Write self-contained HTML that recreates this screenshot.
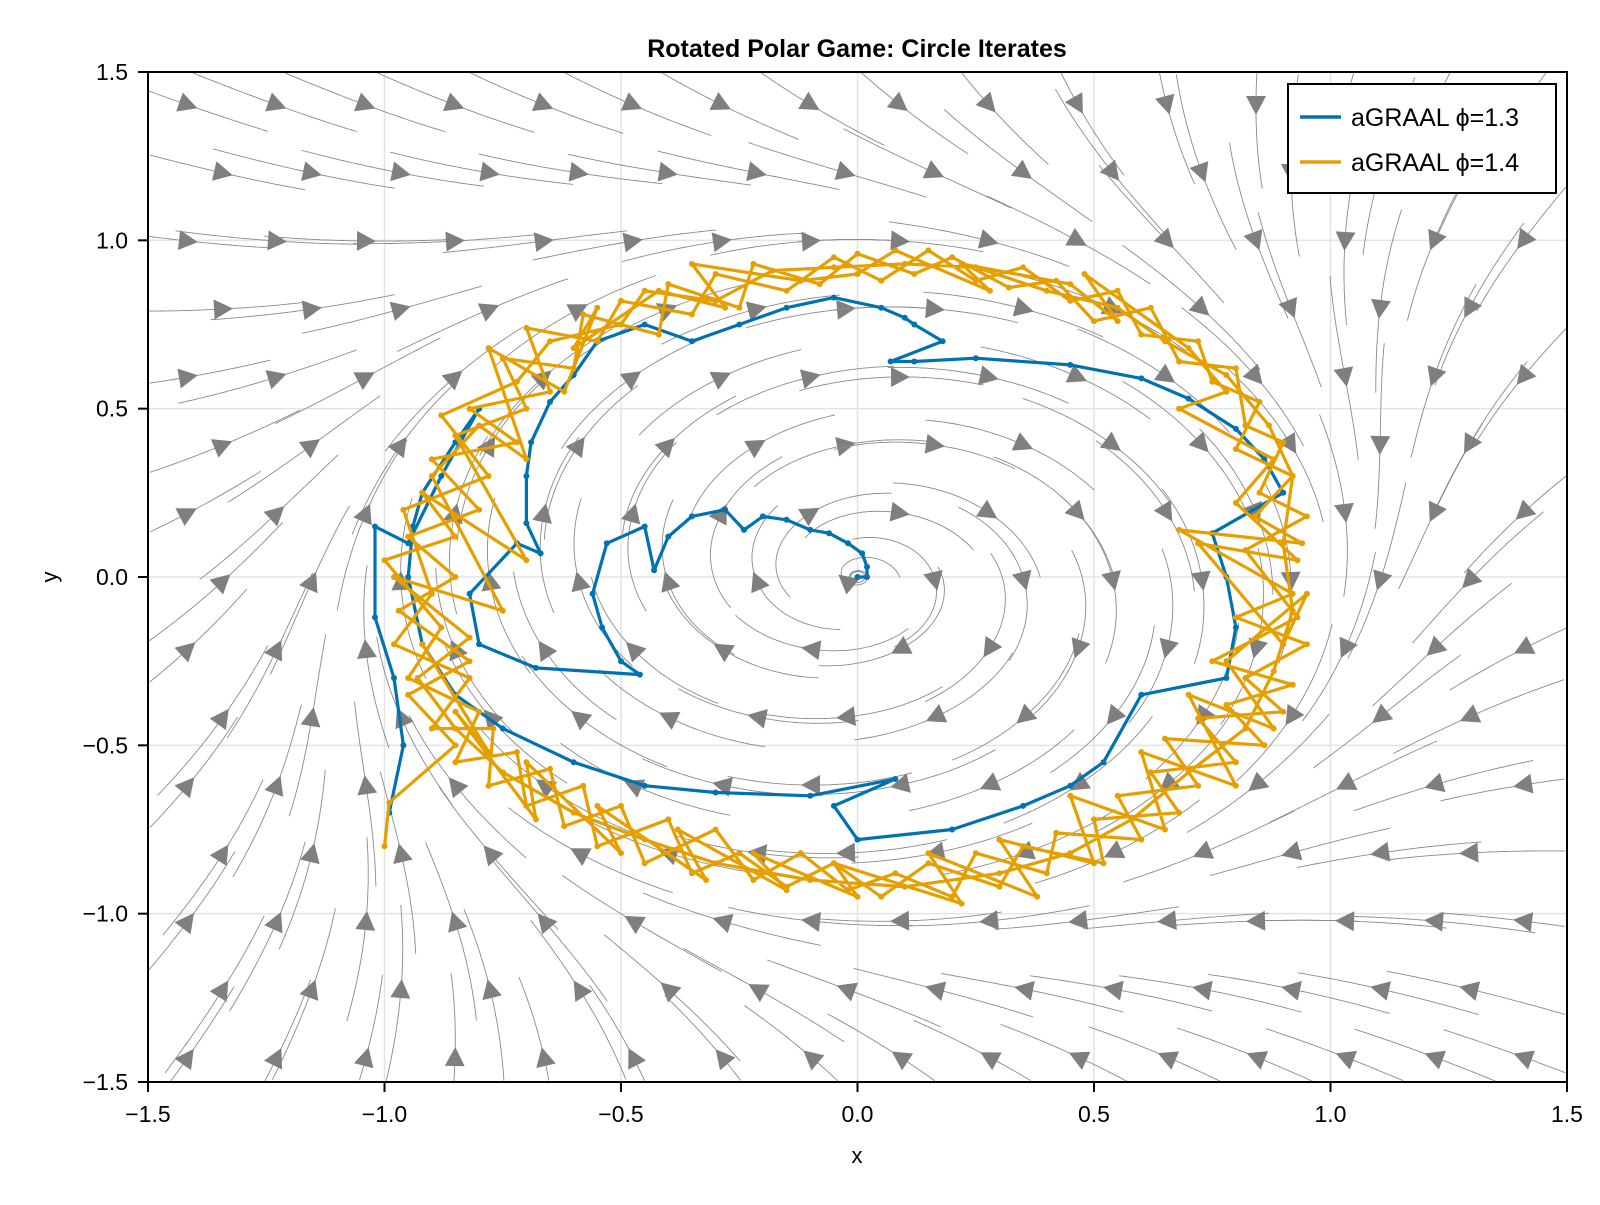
<!DOCTYPE html>
<html><head><meta charset="utf-8"><style>
body{margin:0;background:#fff;}
svg text{font-family:"Liberation Sans",sans-serif;}
</style></head><body>
<svg id="chart" width="1600" height="1200" viewBox="0 0 1600 1200" xmlns="http://www.w3.org/2000/svg">
<rect width="1600" height="1200" fill="#fff"/>
<text x="857" y="57" text-anchor="middle" font-size="25" font-weight="bold">Rotated Polar Game: Circle Iterates</text>
<g id="grid"></g>
<g id="stream"></g>
<g id="series"></g>
<rect x="148" y="72" width="1419" height="1010" fill="none" stroke="#000" stroke-width="2"/>
<g id="axes"></g>
<text x="857" y="1163" text-anchor="middle" font-size="22">x</text>
<text x="57" y="577" text-anchor="middle" font-size="22" transform="rotate(-90 57 577)">y</text>
<g>
<rect x="1288" y="84" width="268" height="109" fill="#fff" stroke="#000" stroke-width="2"/>
<line x1="1300" y1="117" x2="1341" y2="117" stroke="#0072b2" stroke-width="3.5"/>
<text x="1351" y="126" font-size="25">aGRAAL ϕ=1.3</text>
<line x1="1300" y1="162" x2="1341" y2="162" stroke="#e69f00" stroke-width="3.5"/>
<text x="1351" y="171" font-size="25">aGRAAL ϕ=1.4</text>
</g>
</svg>
<script>
const xTicks=[-1.5,-1.0,-0.5,0.0,0.5,1.0,1.5];
const yTicks=[-1.5,-1.0,-0.5,0.0,0.5,1.0,1.5];
const xTickLabels=["−1.5","−1.0","−0.5","0.0","0.5","1.0","1.5"];
const yTickLabels=["−1.5","−1.0","−0.5","0.0","0.5","1.0","1.5"];
const blueX=[0,0.02,0.02,0.01,-0.02,-0.06,-0.1,-0.15,-0.2,-0.24,-0.28,-0.35,-0.4,-0.43,-0.45,-0.53,-0.56,-0.54,-0.5,-0.46,-0.68,-0.8,-0.82,-0.72,-0.67,-0.7,-0.7,-0.69,-0.65,-0.6,-0.55,-0.45,-0.35,-0.25,-0.15,-0.05,0.05,0.1,0.12,0.18,0.07,0.12,0.25,0.45,0.6,0.7,0.8,0.86,0.9,0.75,0.78,0.8,0.78,0.6,0.52,0.45,0.35,0.2,0.0,-0.05,0.08,-0.1,-0.3,-0.45,-0.6,-0.75,-0.85,-0.92,-0.95,-0.94,-0.92,-0.85,-0.8,-0.88,-0.95,-1.02,-1.02,-0.98,-0.96,-0.99];
const blueY=[0,0,0.03,0.07,0.1,0.13,0.14,0.17,0.18,0.14,0.2,0.18,0.12,0.02,0.15,0.1,-0.05,-0.15,-0.25,-0.29,-0.27,-0.2,-0.05,0.1,0.07,0.16,0.3,0.4,0.52,0.6,0.7,0.75,0.7,0.75,0.8,0.83,0.8,0.77,0.75,0.7,0.64,0.64,0.65,0.63,0.59,0.53,0.44,0.35,0.25,0.13,0,-0.15,-0.3,-0.35,-0.55,-0.62,-0.68,-0.75,-0.78,-0.68,-0.6,-0.65,-0.64,-0.62,-0.55,-0.45,-0.35,-0.2,0,0.15,0.25,0.4,0.5,0.3,0.1,0.15,-0.12,-0.3,-0.5,-0.7];
const orangeX=[-1,-0.99,-0.85,-0.95,-0.82,-0.97,-0.85,-0.95,-0.8,-0.9,-0.72,-0.82,-0.65,-0.7,-0.55,-0.5,-0.35,-0.3,-0.15,-0.05,0.05,0.15,0.25,0.35,0.45,0.55,0.6,0.72,0.75,0.85,0.8,0.92,0.84,0.94,0.68,0.92,0.8,0.95,0.82,0.9,0.72,0.8,0.62,0.68,0.5,0.52,0.35,0.3,0.15,0.05,-0.05,-0.15,-0.25,-0.35,-0.4,-0.55,-0.58,-0.7,-0.72,-0.85,-0.8,-0.95,
-0.88,-1.0,-0.85,-0.92,-0.7,-0.85,-0.7,-0.75,-0.6,-0.58,-0.42,-0.4,-0.25,-0.22,-0.08,0.0,0.12,0.2,0.32,0.42,0.5,0.62,0.68,0.8,0.82,0.9,0.85,0.95,0.82,0.93,0.75,0.92,0.78,0.86,0.65,0.72,0.55,0.6,0.42,0.4,0.25,0.2,0.08,-0.02,-0.12,-0.22,-0.3,-0.45,-0.5,-0.62,-0.65,-0.78,-0.77,-0.9,-0.82,-0.98,
-0.9,-0.96,-0.78,-0.88,-0.72,-0.65,-0.5,-0.45,-0.3,-0.18,-0.05,0.1,0.25,0.4,0.55,0.65,0.78,0.87,0.92,0.9,0.92,0.88,0.82,0.7,0.58,0.45,0.3,0.1,-0.1,-0.3,-0.45,-0.6,-0.75,-0.85,
-0.93,-0.82,-0.98,-0.75,-0.9,-0.8,-0.7,-0.78,-0.62,-0.55,-0.6,-0.42,-0.28,-0.35,-0.12,0.0,0.08,0.28,0.22,0.45,0.55,0.48,0.7,0.78,0.68,0.88,0.8,0.93,0.72,0.9,0.95,0.78,0.88,0.7,0.8,0.6,0.65,0.45,0.5,0.3,0.38,0.15,0.22,-0.05,0.0,-0.22,-0.15,-0.38,-0.32,-0.55,-0.5,-0.7,-0.68,-0.85,-0.78,-0.92];
const orangeY=[-0.8,-0.67,-0.5,-0.35,-0.25,-0.1,0,0.12,0.2,0.35,0.4,0.5,0.55,0.74,0.7,0.82,0.78,0.9,0.85,0.95,0.88,0.97,0.88,0.92,0.82,0.85,0.72,0.7,0.58,0.52,0.38,0.3,0.18,0.1,0.14,-0.05,-0.12,-0.2,-0.3,-0.4,-0.42,-0.55,-0.58,-0.7,-0.72,-0.85,-0.8,-0.92,-0.85,-0.95,-0.85,-0.92,-0.82,-0.88,-0.72,-0.8,-0.62,-0.68,-0.52,-0.55,-0.4,-0.3,
-0.15,0.05,0.12,0.25,0.05,0.42,0.5,0.65,0.62,0.78,0.72,0.87,0.8,0.93,0.87,0.96,0.9,0.95,0.86,0.88,0.76,0.8,0.64,0.62,0.45,0.4,0.25,0.18,0.08,-0.12,-0.25,-0.32,-0.38,-0.5,-0.48,-0.62,-0.65,-0.78,-0.76,-0.88,-0.82,-0.95,-0.88,-0.93,-0.82,-0.9,-0.75,-0.85,-0.68,-0.74,-0.57,-0.62,-0.45,-0.45,-0.3,-0.2,
-0.05,0.2,0.3,0.48,0.58,0.7,0.75,0.85,0.82,0.91,0.92,0.93,0.92,0.85,0.8,0.7,0.6,0.45,0.3,0.1,-0.1,-0.28,-0.45,-0.58,-0.72,-0.82,-0.88,-0.92,-0.9,-0.85,-0.78,-0.7,-0.58,-0.45,
-0.3,-0.18,0.0,-0.1,0.3,0.45,0.35,0.68,0.55,0.8,0.68,0.85,0.8,0.93,0.88,0.9,0.97,0.85,0.93,0.87,0.76,0.9,0.68,0.55,0.5,0.35,0.22,0.05,0.1,-0.2,-0.05,-0.25,-0.45,-0.35,-0.62,-0.52,-0.75,-0.65,-0.85,-0.78,-0.95,-0.82,-0.97,-0.85,-0.95,-0.82,-0.93,-0.75,-0.9,-0.68,-0.82,-0.55,-0.72,-0.4,-0.52,-0.2];

const NS='http://www.w3.org/2000/svg';
const X0=148,X1=1567,Y0=1082,Y1=72;
const sx=v=>X0+(v+1.5)/3*(X1-X0);
const sy=v=>Y0-(v+1.5)/3*(Y0-Y1);
const KX=(X1-X0)/3,KY=(Y0-Y1)/3,CX=sx(0),CY=sy(0);
function mk(tag,attrs,parent){const e=document.createElementNS(NS,tag);for(const k in attrs)e.setAttribute(k,attrs[k]);parent.appendChild(e);return e;}
const grid=document.getElementById('grid'),axes=document.getElementById('axes');
xTicks.forEach((t,i)=>{
  const l=mk('line',{x1:sx(t),x2:sx(t),y1:Y1,y2:Y0,stroke:'#e3e3e3','stroke-width':1.5},grid);
  
  const k=mk('line',{x1:sx(t),x2:sx(t),y1:Y0,y2:Y0+10,stroke:'#000','stroke-width':2},axes);
  
  const tx=mk('text',{x:sx(t),y:Y0+40,'text-anchor':'middle','font-size':23},axes);tx.textContent=xTickLabels[i];
  
});
yTicks.forEach((t,i)=>{
  const l=mk('line',{x1:X0,x2:X1,y1:sy(t),y2:sy(t),stroke:'#e3e3e3','stroke-width':1.5},grid);
  
  const k=mk('line',{x1:X0-10,x2:X0,y1:sy(t),y2:sy(t),stroke:'#000','stroke-width':2},axes);
  
  const tx=mk('text',{x:X0-20,y:sy(t)+8,'text-anchor':'end','font-size':23},axes);tx.textContent=yTickLabels[i];
  
});
const st=document.getElementById('stream');
function field(px,py){const x=(px-CX)/KX,y=-(py-CY)/KY;const r2=x*x+y*y;const k=r2>1?(1-r2):0.25*(1-r2);let vx=y+k*x,vy=-x+k*y;vx*=KX;vy*=-KY;const n=Math.hypot(vx,vy)||1;return [vx/n,vy/n];}
function trace(px,py,dir,steps){const pts=[];let x=px,y=py;for(let i=0;i<steps;i++){const [u,v]=field(x,y);x+=dir*3*u;y+=dir*3*v;if(x<X0||x>X1||y<Y1||y>Y0)break;pts.push([x,y]);}return pts;}
for(let gx=0;gx<16;gx++)for(let gy=0;gy<15;gy++){
  const px=X0+40+gx*89+(gy%2)*35, py=Y1+33+gy*68;
  if(px>X1-10||py>Y0-10)continue;
  const back=trace(px,py,-1,34).reverse(),fwd=trace(px,py,1,28);
  const pts=back.concat([[px,py]],fwd);
  const pl=mk('polyline',{points:pts.map(p=>p[0].toFixed(1)+','+p[1].toFixed(1)).join(' '),fill:'none',stroke:'#8a8a8a','stroke-width':0.9},st);
  
  const [u,v]=field(px,py);const a=Math.atan2(v,u)*180/Math.PI;
  const tr=mk('polygon',{points:'10,0 -9,-10 -9,10',fill:'#7f7f7f',transform:`translate(${px.toFixed(1)},${py.toFixed(1)}) rotate(${a.toFixed(1)})`},st);
  
}
const ser=document.getElementById('series');
function drawSeries(xs,ys,color,name){
  const g=mk('g',{},ser);
  const pl=mk('polyline',{points:xs.map((x,i)=>sx(x).toFixed(1)+','+sy(ys[i]).toFixed(1)).join(' '),fill:'none',stroke:color,'stroke-width':3.2,'stroke-linejoin':'round'},g);
  
  xs.forEach((x,i)=>{const c=mk('circle',{cx:sx(x).toFixed(1),cy:sy(ys[i]).toFixed(1),r:3,fill:color},g);
    });
}
drawSeries(blueX,blueY,'#0072b2','series-phi13');
drawSeries(orangeX,orangeY,'#e69f00','series-phi14');
</script>
</body></html>
